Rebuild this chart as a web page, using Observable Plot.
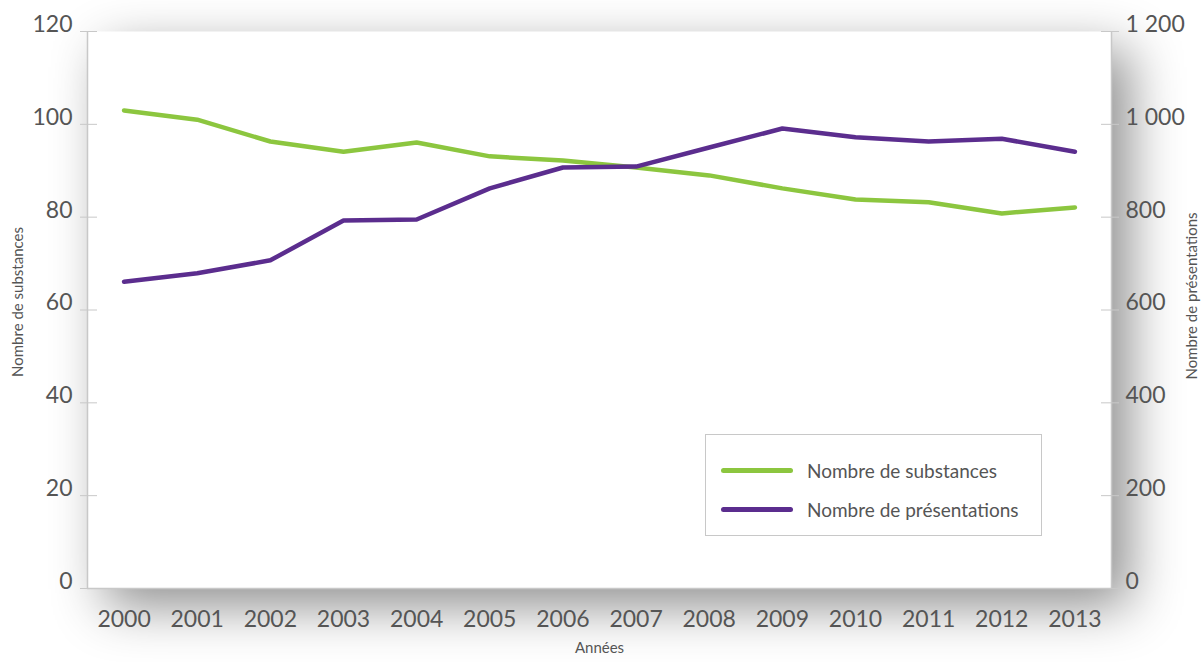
<!DOCTYPE html>
<html>
<head>
<meta charset="utf-8">
<script src="https://cdn.jsdelivr.net/npm/d3@7"></script>
<script src="https://cdn.jsdelivr.net/npm/@observablehq/plot@0.6"></script>
<style>
  body { margin: 0; background: #fff; font-family: Lato, "Open Sans", sans-serif; }
  #wrap { position: relative; width: 1203px; height: 662px; }
  #legend { position: absolute; left: 705px; top: 434px; width: 337px; height: 102px;
    border: 1px solid #c8c8c8; background: #fff; box-sizing: border-box; }
  .row { position: absolute; left: 15px; display: flex; align-items: center; height: 24px; }
  .sw { width: 72px; height: 5px; border-radius: 3px; margin-right: 14px; }
  .lab { font-size: 19px; color: #555; font-family: Lato, sans-serif; }
</style>
</head>
<body>
<div id="wrap"></div>
<script>
const years = [2000, 2001, 2002, 2003, 2004, 2005, 2006, 2007, 2008, 2009, 2010, 2011, 2012, 2013];
const substances = [103.0, 101.0, 96.3, 94.1, 96.1, 93.1, 92.2, 90.7, 89.0, 86.2, 83.8, 83.2, 80.8, 82.1];
const presentations = [661, 679, 707, 793, 795, 862, 907, 909, 950, 991, 972, 963, 969, 941];
const leftTicks = [0, 20, 40, 60, 80, 100, 120];
const rightTicks = [0, 200, 400, 600, 800, 1000, 1200];
const seriesNames = ["Nombre de substances", "Nombre de présentations"];
const colors = ["#8cc63f", "#5b2d8e"];

const data = years.map((y, i) => ({year: y, sub: substances[i], pres: presentations[i]}));
const ratio = 10;
const fmtRight = d => d3.format(",")(d * ratio).replace(",", " ");
const txt = "#555";
const axisGray = "#c8c8c8";

const chart = Plot.plot({
  width: 1203,
  height: 662,
  marginLeft: 87,
  marginRight: 92,
  marginTop: 31,
  marginBottom: 74,
  style: {fontFamily: "Lato, 'Open Sans', sans-serif", background: "transparent", overflow: "visible"},
  x: {type: "linear", domain: [1999.5, 2013.5], axis: null},
  y: {domain: [0, 120], axis: null},
  marks: [
    Plot.frame({fill: "white", stroke: null}),
    Plot.ruleX([1999.5, 2013.5], {stroke: axisGray, strokeWidth: 1.5}),
    Plot.ruleY([0], {stroke: axisGray, strokeWidth: 1.5}),
    // tick marks crossing the axis lines
    Plot.axisY(leftTicks, {anchor: "left", tickSize: 17, dx: 10, tickFormat: () => "", stroke: axisGray, label: null}),
    Plot.axisY(rightTicks.map(d => d / ratio), {anchor: "right", tickSize: 18, dx: -11, tickFormat: () => "", stroke: axisGray, label: null}),
    // tick labels
    Plot.axisY(leftTicks, {anchor: "left", tickSize: 0, tickPadding: 15, dy: -7, fontSize: 23, fill: txt, label: null}),
    Plot.axisY(rightTicks.map(d => d / ratio), {anchor: "right", tickSize: 0, tickPadding: 14, dy: -7, fontSize: 23, fill: txt, tickFormat: fmtRight, label: null}),
    Plot.axisX(years, {anchor: "bottom", tickSize: 0, tickPadding: 22, fontSize: 23, fill: txt, tickFormat: d => String(d), label: null}),
    // axis titles
    Plot.text([seriesNames[0]], {text: d => d, frameAnchor: "left", textAnchor: "middle", rotate: -90, dx: -69, dy: -8, fontSize: 15, fill: txt}),
    Plot.text([seriesNames[1]], {text: d => d, frameAnchor: "right", textAnchor: "middle", rotate: -90, dx: 81, dy: -14, fontSize: 15, fill: txt}),
    Plot.text(["Années"], {text: d => d, frameAnchor: "bottom", dy: 64, fontSize: 15, fill: txt}),
    // series
    Plot.line(data, {x: "year", y: "sub", stroke: colors[0], strokeWidth: 4.5}),
    Plot.line(data, {x: "year", y: d => d.pres / ratio, stroke: colors[1], strokeWidth: 4.5})
  ]
});

const fr = chart.querySelector('[aria-label="frame"]');
if (fr) fr.style.filter = "drop-shadow(18px 18px 26px rgba(0,0,0,0.44))";

const wrap = document.getElementById("wrap");
wrap.appendChild(chart);

const legend = document.createElement("div");
legend.id = "legend";
seriesNames.forEach((name, i) => {
  const row = document.createElement("div");
  row.className = "row";
  row.style.top = (23 + i * 39) + "px";
  const sw = document.createElement("div");
  sw.className = "sw";
  sw.style.background = colors[i];
  const lab = document.createElement("span");
  lab.className = "lab";
  lab.textContent = name;
  row.appendChild(sw);
  row.appendChild(lab);
  legend.appendChild(row);
});
wrap.appendChild(legend);
</script>
</body>
</html>
